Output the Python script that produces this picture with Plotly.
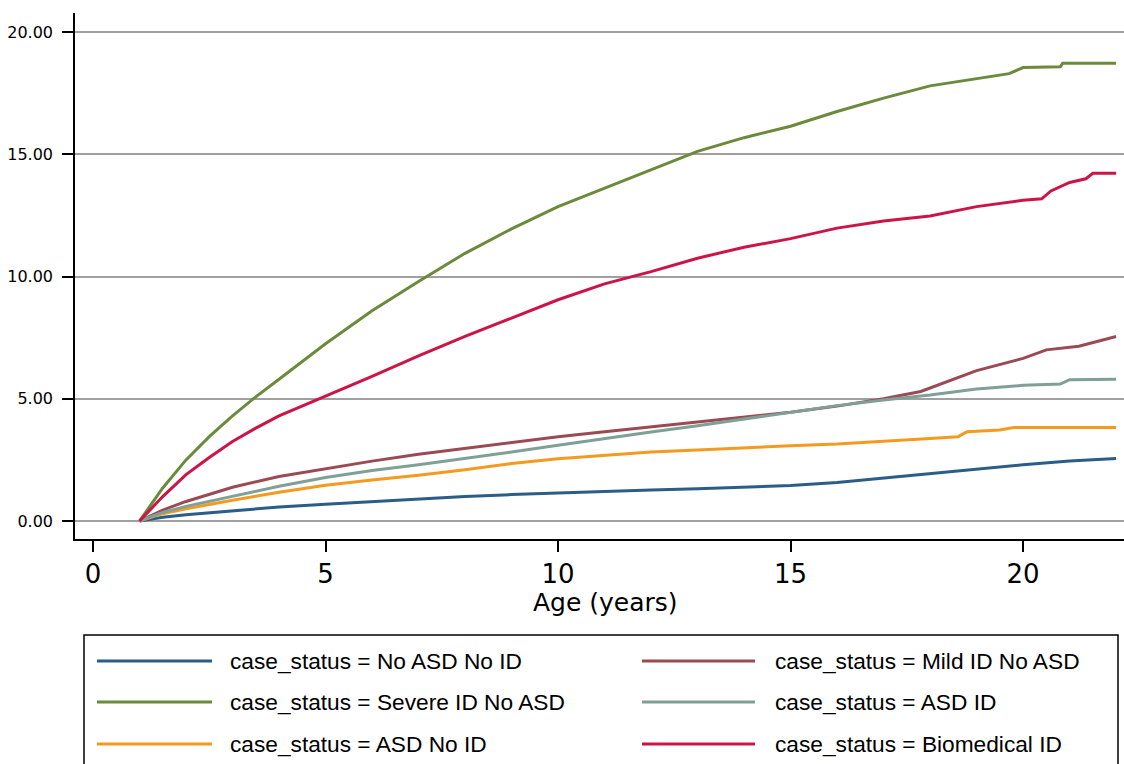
import plotly.graph_objects as go

# Cumulative incidence by age for each case_status group
labels = [
    "No ASD No ID",
    "Severe ID No ASD",
    "ASD No ID",
    "Mild ID No ASD",
    "ASD ID",
    "Biomedical ID",
]
colors = ["#2b5d89", "#6b8a3c", "#f59a20", "#9b4a53", "#7fa096", "#cc1447"]

age_no_asd_no_id = [1, 1.5, 2, 3, 4, 5, 6, 7, 8, 9, 10, 11, 12, 13, 14, 15, 16, 17, 18, 19, 20, 21, 22]
val_no_asd_no_id = [0, 0.15, 0.26, 0.42, 0.57, 0.69, 0.80, 0.92, 1.00, 1.08, 1.15, 1.21, 1.27, 1.32, 1.38,
                    1.45, 1.58, 1.76, 1.95, 2.13, 2.30, 2.45, 2.56]

age_severe_id = [1, 1.5, 2, 2.5, 3, 3.5, 4, 5, 6, 7, 8, 9, 10, 11, 12, 13, 14, 15, 16, 17, 18, 19,
                 19.7, 20.0, 20.8, 20.85, 22]
val_severe_id = [0, 1.35, 2.5, 3.45, 4.3, 5.08, 5.8, 7.25, 8.6, 9.8, 10.95, 11.95, 12.86, 13.62, 14.38,
                 15.12, 15.68, 16.15, 16.75, 17.3, 17.8, 18.08, 18.3, 18.55, 18.58, 18.72, 18.72]

age_asd_no_id = [1, 1.5, 2, 2.5, 3, 4, 5, 6, 7, 8, 9, 10, 11, 12, 13, 14, 15, 16, 17, 18, 18.6, 18.8,
                 19.5, 19.8, 22]
val_asd_no_id = [0, 0.3, 0.5, 0.66, 0.85, 1.18, 1.46, 1.68, 1.87, 2.10, 2.35, 2.55, 2.70, 2.82, 2.90,
                 3.00, 3.08, 3.15, 3.25, 3.38, 3.45, 3.65, 3.72, 3.82, 3.82]

age_mild_id = [1, 1.5, 2, 2.5, 3, 4, 5, 6, 7, 8, 9, 10, 11, 12, 13, 14, 15, 16, 17, 17.8, 18.5, 19, 20,
               20.5, 21.2, 22]
val_mild_id = [0, 0.45, 0.8, 1.1, 1.38, 1.82, 2.15, 2.45, 2.73, 2.98, 3.23, 3.45, 3.65, 3.85, 4.07,
               4.27, 4.45, 4.70, 5.00, 5.30, 5.80, 6.15, 6.65, 7.00, 7.15, 7.55]

age_asd_id = [1, 1.5, 2, 2.5, 3, 4, 5, 6, 7, 8, 9, 10, 11, 12, 13, 14, 15, 16, 17, 18, 19, 20, 20.8,
              21, 22]
val_asd_id = [0, 0.35, 0.6, 0.8, 1.02, 1.42, 1.78, 2.07, 2.30, 2.55, 2.82, 3.10, 3.38, 3.64, 3.90, 4.18,
              4.45, 4.72, 4.95, 5.15, 5.40, 5.55, 5.60, 5.78, 5.80]

age_biomedical = [1, 1.5, 2, 2.5, 3, 3.5, 4, 5, 6, 7, 8, 9, 10, 11, 12, 13, 14, 15, 16, 17, 18, 19, 20,
                  20.4, 20.6, 21, 21.35, 21.5, 22]
val_biomedical = [0, 1.0, 1.9, 2.6, 3.25, 3.8, 4.3, 5.1, 5.92, 6.75, 7.55, 8.3, 9.05, 9.7, 10.2, 10.75,
                  11.2, 11.55, 11.98, 12.27, 12.48, 12.86, 13.12, 13.18, 13.5, 13.85, 14.0, 14.22, 14.22]

series = [
    (age_no_asd_no_id, val_no_asd_no_id),
    (age_severe_id, val_severe_id),
    (age_asd_no_id, val_asd_no_id),
    (age_mild_id, val_mild_id),
    (age_asd_id, val_asd_id),
    (age_biomedical, val_biomedical),
]

x_ticks = [0, 5, 10, 15, 20]
y_ticks = [0, 5, 10, 15, 20]

fig = go.Figure()
for (ages, vals), name, color in zip(series, labels, colors):
    fig.add_trace(go.Scatter(
        x=ages, y=vals, mode="lines", name="case_status = " + name,
        line=dict(color=color, width=3), showlegend=False,
    ))

# Boxed two-column key below the axis
W, H = 1124, 764
L, R, T, B = 75, 0, 13, 225
pw, ph = W - L - R, H - T - B


def px_x(p):
    return (p - L) / pw


def px_y(p):
    return (H - B - p) / ph


shapes = [dict(type="rect", xref="paper", yref="paper",
               x0=px_x(84), x1=px_x(1118), y0=px_y(635), y1=px_y(800),
               line=dict(color="black", width=1.5), fillcolor="rgba(0,0,0,0)")]
annotations = [dict(text="Age (years)", xref="paper", yref="paper",
                    x=px_x(605), y=px_y(602), xanchor="center", yanchor="middle",
                    showarrow=False, font=dict(family="DejaVu Sans", size=25, color="black"))]

row_y = [661, 702, 744]
cols = [(97, 212, 228), (642, 755, 773)]
for i, (name, color) in enumerate(zip(labels, colors)):
    col, row = divmod(i, 3)
    lx0, lx1, tx = cols[col]
    yy = px_y(row_y[row])
    shapes.append(dict(type="line", xref="paper", yref="paper",
                       x0=px_x(lx0), x1=px_x(lx1), y0=yy, y1=yy,
                       line=dict(color=color, width=3)))
    annotations.append(dict(text="case_status = " + name, xref="paper", yref="paper",
                            x=px_x(tx), y=yy, xanchor="left", yanchor="middle",
                            showarrow=False,
                            font=dict(family="Liberation Sans", size=22.7, color="black")))

fig.update_layout(
    width=W, height=H,
    margin=dict(l=L, r=R, t=T, b=B, pad=0),
    paper_bgcolor="white", plot_bgcolor="white",
    shapes=shapes, annotations=annotations,
    xaxis=dict(range=[-0.387, 22.17], tickvals=x_ticks, ticks="outside", ticklen=11,
               tickwidth=1.5, tickcolor="black", showline=True, linecolor="black",
               linewidth=1.5, showgrid=False, zeroline=False, ticklabelstandoff=0,
               tickfont=dict(family="DejaVu Sans", size=26, color="black")),
    yaxis=dict(range=[-0.736, 20.78], tickvals=y_ticks, tickformat=".2f", ticks="outside",
               ticklen=11, tickwidth=1.5, tickcolor="black", showline=True,
               linecolor="black", linewidth=1.5, showgrid=True, gridcolor="#a0a0a0",
               gridwidth=2, zeroline=False, ticklabelstandoff=6,
               tickfont=dict(family="DejaVu Sans", size=16, color="black")),
)

fig.write_html("out.html")
